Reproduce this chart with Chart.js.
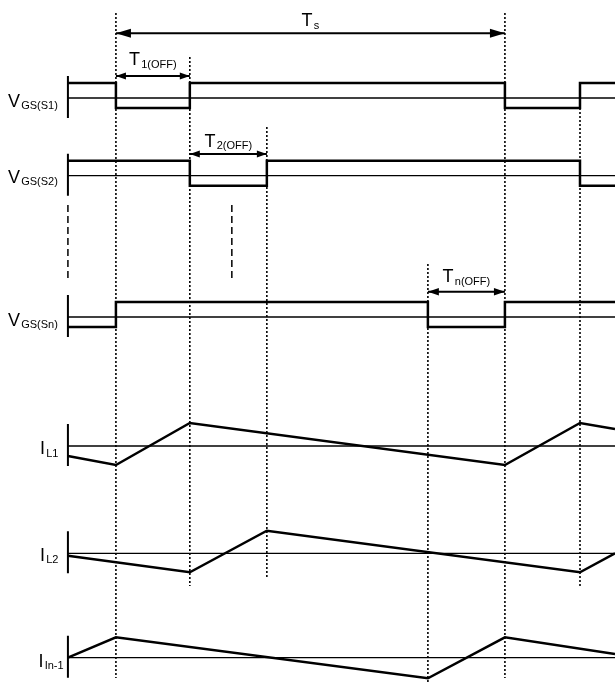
<!DOCTYPE html>
<html>
<head>
<meta charset="utf-8">
<script src="https://cdn.jsdelivr.net/npm/chart.js@4/dist/chart.umd.min.js"></script>
<style>
  html, body { margin: 0; padding: 0; background: #fff; }
  #wrap { width: 615px; height: 683px; }
</style>
</head>
<body>
<div id="wrap"><canvas id="c" width="615" height="683"></canvas></div>
<script>
// Time in units where one switching period Ts = 10
const viewStart = -2.98;
const viewEnd = 12.83;
const traceStart = -1.234;

// Gate drive levels (V)
const gateHigh = 15;
const gateLow = -10;

// Gate edges: each level is held from its instant until the next one
const s1Times  = [traceStart, 0, 1.90, 10, 11.93, viewEnd];
const s1Levels = [gateHigh, gateLow, gateHigh, gateLow, gateHigh, gateHigh];
const s2Times  = [traceStart, 1.90, 3.88, 11.93, viewEnd];
const s2Levels = [gateHigh, gateLow, gateHigh, gateLow, gateLow];
const snTimes  = [traceStart, 0, 8.02, 10, viewEnd];
const snLevels = [gateLow, gateHigh, gateLow, gateHigh, gateHigh];

// Inductor current ripple vertices (A, about the mean)
const iL1Times  = [traceStart, 0, 1.90, 10, 11.93, viewEnd];
const iL1Values = [-1.0, -1.9, 2.3, -1.9, 2.3, 1.7];
const iL2Times  = [traceStart, 1.90, 3.88, 11.93, viewEnd];
const iL2Values = [-0.24, -1.9, 2.26, -1.9, 0.0];
const iLnTimes  = [traceStart, 0, 8.02, 10, viewEnd];
const iLnValues = [0.0, 2.04, -2.06, 2.04, 0.37];

// Switching instants marked with dotted guides
const markerTimes = [0, 1.90, 3.88, 8.02, 10, 11.93];

// Interval annotations: start, end, main text, subscript
const spanStarts = [0, 0, 1.90, 8.02];
const spanEnds   = [10, 1.90, 3.88, 10];
const spanMain   = ['T', 'T', 'T', 'T'];
const spanSub    = ['s', '1(OFF)', '2(OFF)', 'n(OFF)'];

// Trace names
const traceMain = ['V', 'V', 'V', 'I', 'I', 'I'];
const traceSub  = ['GS(S1)', 'GS(S2)', 'GS(Sn)', 'L1', 'L2', 'In-1'];

// ---- layout (pixel rows of the vertical scale) ----
const rowBase  = [98, 175.7, 317, 446, 553.3, 657.7];
const rowGain  = [1, 1, 1, 10, 10, 10];          // px per unit
const rowTimes = [s1Times, s2Times, snTimes, iL1Times, iL2Times, iLnTimes];
const rowVals  = [s1Levels, s2Levels, snLevels, iL1Values, iL2Values, iLnValues];
const rowStep  = [true, true, true, false, false, false];
const labelLeft = [8, 8, 8, 40, 40, 38.5];
const labelDrop = [8.5, 7.2, 8.7, 8, 7.2, 9];
const markerSpan = [[13, 678], [57, 586], [127, 577], [264, 684], [13, 678], [108, 586]];
const spanRowY = [33.3, 76, 154, 291.7];
const spanHead = [[15, 4.5], [10, 3.6], [10, 3.6], [11, 3.7]];
const spanTextY = [26, 65, 146.5, 282];

const FONT = "'Liberation Sans', Arial, Helvetica, sans-serif";

const datasets = [];
const line = (data, width, extra) => Object.assign({
  data, showLine: true, borderColor: '#000', backgroundColor: '#000',
  borderWidth: width, pointRadius: 0, pointHoverRadius: 0, fill: false,
  tension: 0, borderCapStyle: 'butt', borderJoinStyle: 'miter'
}, extra || {});

// waveforms
rowTimes.forEach((ts, r) => {
  const pts = ts.map((t, i) => ({ x: t, y: rowBase[r] - rowVals[r][i] * rowGain[r] }));
  datasets.push(line(pts, 2.5, { stepped: rowStep[r] ? 'before' : false }));
});
// zero lines and left axis bars
rowBase.forEach(b => {
  datasets.push(line([{ x: traceStart, y: b }, { x: viewEnd, y: b }], 1.3));
  datasets.push(line([{ x: traceStart, y: b - 22 }, { x: traceStart, y: b + 20 }], 2));
});
// interval arrows (shafts)
spanStarts.forEach((s, k) => {
  datasets.push(line([{ x: s, y: spanRowY[k] }, { x: spanEnds[k], y: spanRowY[k] }], 2));
});
// dotted switching guides
markerTimes.forEach((t, k) => {
  datasets.push(line([{ x: t, y: markerSpan[k][0] }, { x: t, y: markerSpan[k][1] }], 1.6,
    { borderDash: [2, 2] }));
});
// vertical ellipsis between S2 and Sn
[traceStart, 2.98].forEach(t => {
  datasets.push(line([{ x: t, y: 205 }, { x: t, y: 282 }], 1.5, { borderDash: [7, 4] }));
});

function drawSubText(ctx, main, sub, x, y, center) {
  ctx.font = '18px ' + FONT;
  const wm = ctx.measureText(main).width;
  ctx.font = '11px ' + FONT;
  const ws = ctx.measureText(sub).width;
  const gap = 1.2;
  const left = center ? x - (wm + gap + ws) / 2 : x;
  ctx.font = '18px ' + FONT;
  ctx.fillText(main, left, y);
  ctx.font = '11px ' + FONT;
  ctx.fillText(sub, left + wm + gap, y + 2.5);
}

const annotate = {
  id: 'annotate',
  afterDatasetsDraw(chart) {
    const { ctx, scales: { x, y } } = chart;
    ctx.save();
    ctx.fillStyle = '#000';
    ctx.textBaseline = 'alphabetic';
    ctx.textAlign = 'left';
    // arrowheads and interval labels
    spanStarts.forEach((s, k) => {
      const x0 = x.getPixelForValue(s), x1 = x.getPixelForValue(spanEnds[k]);
      const yy = y.getPixelForValue(spanRowY[k]);
      const [len, half] = spanHead[k];
      ctx.beginPath();
      ctx.moveTo(x0, yy); ctx.lineTo(x0 + len, yy - half); ctx.lineTo(x0 + len, yy + half);
      ctx.closePath(); ctx.fill();
      ctx.beginPath();
      ctx.moveTo(x1, yy); ctx.lineTo(x1 - len, yy - half); ctx.lineTo(x1 - len, yy + half);
      ctx.closePath(); ctx.fill();
      drawSubText(ctx, spanMain[k], spanSub[k], (x0 + x1) / 2, y.getPixelForValue(spanTextY[k]), true);
    });
    // trace names
    traceMain.forEach((m, r) => {
      drawSubText(ctx, m, traceSub[r], labelLeft[r], y.getPixelForValue(rowBase[r] + labelDrop[r]), false);
    });
    ctx.restore();
  }
};

new Chart(document.getElementById('c'), {
  type: 'scatter',
  data: { datasets },
  options: {
    responsive: false,
    animation: false,
    events: [],
    layout: { padding: 0 },
    plugins: { legend: { display: false }, tooltip: { enabled: false } },
    scales: {
      x: { type: 'linear', min: viewStart, max: viewEnd, display: false },
      y: { type: 'linear', min: 0, max: 683, reverse: true, display: false }
    }
  },
  plugins: [annotate]
});
</script>
</body>
</html>
